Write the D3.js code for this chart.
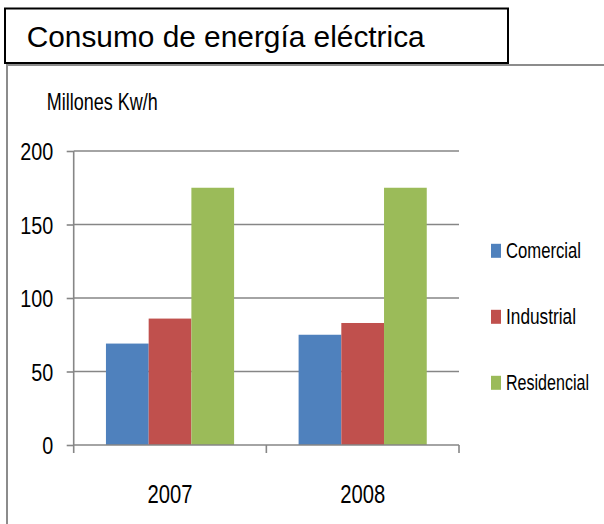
<!DOCTYPE html>
<html>
<head>
<meta charset="utf-8">
<script src="https://cdn.jsdelivr.net/npm/d3@7"></script>
<style>
  html, body { margin: 0; padding: 0; background: #fff; }
  svg { display: block; font-family: 'Liberation Sans', Arial, sans-serif; }
</style>
</head>
<body>
<div id="chart"></div>
<script>
const years = ['2007', '2008'];
const series = ['Comercial', 'Industrial', 'Residencial'];
const comercial = [69, 75];
const industrial = [86, 83];
const residencial = [175, 175];
const yTicks = [0, 50, 100, 150, 200];
const colors = ['#4f81bd', '#c0504d', '#9bbb59'];

const width = 604;
const height = 524;
const margin = {top: 151, right: 145, bottom: 79, left: 73.7};

const values = [comercial, industrial, residencial];
const data = years.map((year, i) => ({
  year,
  bars: series.map((name, j) => ({name, value: values[j][i], color: colors[j]})),
}));

const svg = d3.select('#chart')
  .append('svg')
  .attr('width', width)
  .attr('height', height)
  .attr('viewBox', [0, 0, width, height]);

// outer chart frame (only left and top show)
svg.append('rect')
  .attr('x', 7)
  .attr('y', 65)
  .attr('width', width + 10)
  .attr('height', height)
  .attr('fill', 'none')
  .attr('stroke', '#8c8c8c')
  .attr('stroke-width', 2);

// title box
svg.append('rect')
  .attr('x', 5)
  .attr('y', 8.5)
  .attr('width', 503)
  .attr('height', 54.5)
  .attr('fill', '#fff')
  .attr('stroke', '#000')
  .attr('stroke-width', 2);

svg.append('text')
  .attr('x', 26.7)
  .attr('y', 46.7)
  .attr('font-size', 29)
  .attr('textLength', 398)
  .attr('lengthAdjust', 'spacingAndGlyphs')
  .text('Consumo de energía eléctrica');

svg.append('text')
  .attr('transform', 'translate(46.7,110) scale(1,1.3)')
  .attr('font-size', 18)
  .attr('textLength', 111)
  .attr('lengthAdjust', 'spacingAndGlyphs')
  .text('Millones Kw/h');

const x0 = d3.scaleBand()
  .domain(years)
  .range([margin.left, width - margin.right]);

const x1 = d3.scaleBand()
  .domain(series)
  .range([0, x0.bandwidth()])
  .paddingOuter(0.755);

const y = d3.scaleLinear()
  .domain([0, 200])
  .range([height - margin.bottom, margin.top]);

const grey = '#868686';

// gridlines
svg.append('g')
  .selectAll('line')
  .data(yTicks.filter(d => d > 0))
  .join('line')
  .attr('x1', margin.left)
  .attr('x2', width - margin.right)
  .attr('y1', d => y(d))
  .attr('y2', d => y(d))
  .attr('stroke', grey)
  .attr('stroke-width', 1.6);

// bars
svg.append('g')
  .selectAll('g')
  .data(data)
  .join('g')
  .attr('transform', d => `translate(${x0(d.year)},0)`)
  .selectAll('rect')
  .data(d => d.bars)
  .join('rect')
  .attr('x', d => x1(d.name))
  .attr('y', d => y(d.value))
  .attr('width', x1.bandwidth())
  .attr('height', d => y(0) - y(d.value))
  .attr('fill', d => d.color);

// y axis
svg.append('g')
  .attr('transform', `translate(${margin.left},0)`)
  .call(d3.axisLeft(y).tickValues(yTicks).tickSize(7).tickPadding(13.4))
  .attr('font-family', null)
  .attr('font-size', null)
  .call(g => g.select('.domain').remove())
  .call(g => g.selectAll('.tick line').attr('stroke', grey).attr('stroke-width', 1.6))
  .call(g => g.selectAll('.tick text')
    .attr('fill', '#000')
    .attr('font-size', 24)
    .attr('dy', '0.36em')
    .attr('textLength', d => String(d).length * 11)
    .attr('lengthAdjust', 'spacingAndGlyphs'));

svg.append('line')
  .attr('x1', margin.left)
  .attr('x2', margin.left)
  .attr('y1', y(200))
  .attr('y2', y(0) + 8)
  .attr('stroke', grey)
  .attr('stroke-width', 1.6);

// x axis
const xAxis = svg.append('g')
  .attr('transform', `translate(0,${y(0)})`);

xAxis.append('line')
  .attr('x1', margin.left)
  .attr('x2', width - margin.right)
  .attr('stroke', grey)
  .attr('stroke-width', 1.6);

xAxis.selectAll('.sep')
  .data(years.slice(1).map(d => x0(d)).concat([x0.range()[1]]))
  .join('line')
  .attr('class', 'sep')
  .attr('x1', d => d)
  .attr('x2', d => d)
  .attr('y1', 0)
  .attr('y2', 8)
  .attr('stroke', grey)
  .attr('stroke-width', 1.6);

xAxis.selectAll('text')
  .data(years)
  .join('text')
  .attr('x', d => x0(d) + x0.bandwidth() / 2)
  .attr('y', 58.3)
  .attr('text-anchor', 'middle')
  .attr('font-size', 25)
  .attr('textLength', 45)
  .attr('lengthAdjust', 'spacingAndGlyphs')
  .text(d => d);

// legend
const legendWidths = [75, 70, 83];
const legend = svg.append('g')
  .selectAll('g')
  .data(series)
  .join('g')
  .attr('transform', (d, i) => `translate(491,${258.3 + i * 66})`);

legend.append('rect')
  .attr('x', 0)
  .attr('y', -14.5)
  .attr('width', 10)
  .attr('height', 14)
  .attr('fill', (d, i) => colors[i]);

legend.append('text')
  .attr('transform', 'translate(15,0) scale(1,1.25)')
  .attr('font-size', 17)
  .attr('textLength', (d, i) => legendWidths[i])
  .attr('lengthAdjust', 'spacingAndGlyphs')
  .text(d => d);
</script>
</body>
</html>
